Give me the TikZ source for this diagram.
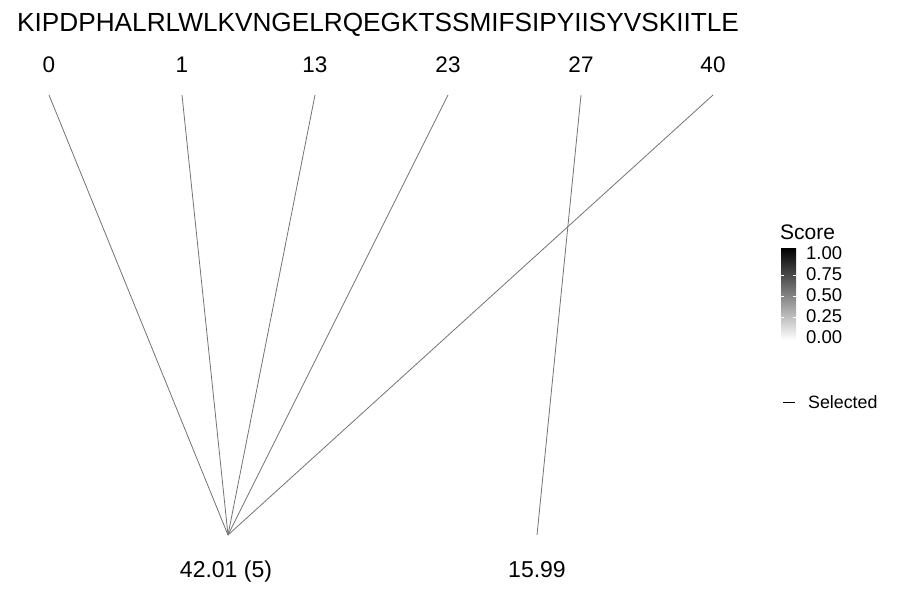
\documentclass[tikz,border=0pt]{standalone}
\usepackage{fontspec}
\setmainfont{Liberation Sans}
\begin{document}
\begin{tikzpicture}[x=1pt,y=-1pt,
    link/.style={draw=black!55,line width=0.8pt},
    sitelabel/.style={anchor=base,inner sep=0pt,font=\fontsize{22.5}{26}\selectfont},
    masslabel/.style={anchor=base,inner sep=0pt,font=\fontsize{23}{26}\selectfont},
    ticklabel/.style={anchor=west,inner sep=0pt,font=\fontsize{18.5}{21}\selectfont}]
\useasboundingbox (0,0) rectangle (900,600);
\node[anchor=base west,inner sep=0pt,font=\fontsize{26.2}{30}\selectfont] (seq) at (17,31)
    {KIPDPHALRLWLKVNGELRQEGKTSSMIFSIPYIISYVSKIITLE};
% positions on the peptide
\node[sitelabel] (p0) at (49,72) {0};
\node[sitelabel] (p1) at (182,72) {1};
\node[sitelabel] (p13) at (315,72) {13};
\node[sitelabel] (p23) at (448,72) {23};
\node[sitelabel] (p27) at (581,72) {27};
\node[sitelabel] (p40) at (713,72) {40};
\coordinate (t0) at (49,95);
\coordinate (t1) at (182,95);
\coordinate (t13) at (315,95);
\coordinate (t23) at (448,95);
\coordinate (t27) at (581,95);
\coordinate (t40) at (713,95);
% mass shifts
\coordinate (m42) at (228,535);
\coordinate (m16) at (537,535);
\node[masslabel] (l42) at (226,577) {42.01 (5)};
\node[masslabel] (l16) at (537,577) {15.99};
\draw[link] (t0) -- (m42);
\draw[link] (t1) -- (m42);
\draw[link] (t13) -- (m42);
\draw[link] (t23) -- (m42);
\draw[link] (t40) -- (m42);
\draw[link] (t27) -- (m16);
% legend
\node[anchor=base west,inner sep=0pt,font=\fontsize{21}{24}\selectfont] (score) at (780,239) {Score};
\shade[top color=black,bottom color=white] (781,248) rectangle (796,340);
\draw[white,line width=0.5pt] (781,275.5)--(784,275.5) (793,275.5)--(796,275.5)
    (781,296)--(784,296) (793,296)--(796,296)
    (781,317)--(784,317) (793,317)--(796,317);
\node[ticklabel] (s100) at (806,253) {1.00};
\node[ticklabel] (s075) at (806,274.5) {0.75};
\node[ticklabel] (s050) at (806,295.5) {0.50};
\node[ticklabel] (s025) at (806,316.5) {0.25};
\node[ticklabel] (s000) at (806,337) {0.00};
\coordinate (k1) at (783,402);
\coordinate (k2) at (795,402);
\draw[black,line width=0.6pt] (k1) -- (k2);
\node[anchor=base west,inner sep=0pt,font=\fontsize{17.8}{20}\selectfont] (sel) at (808,408) {Selected};
\end{tikzpicture}
\end{document}
